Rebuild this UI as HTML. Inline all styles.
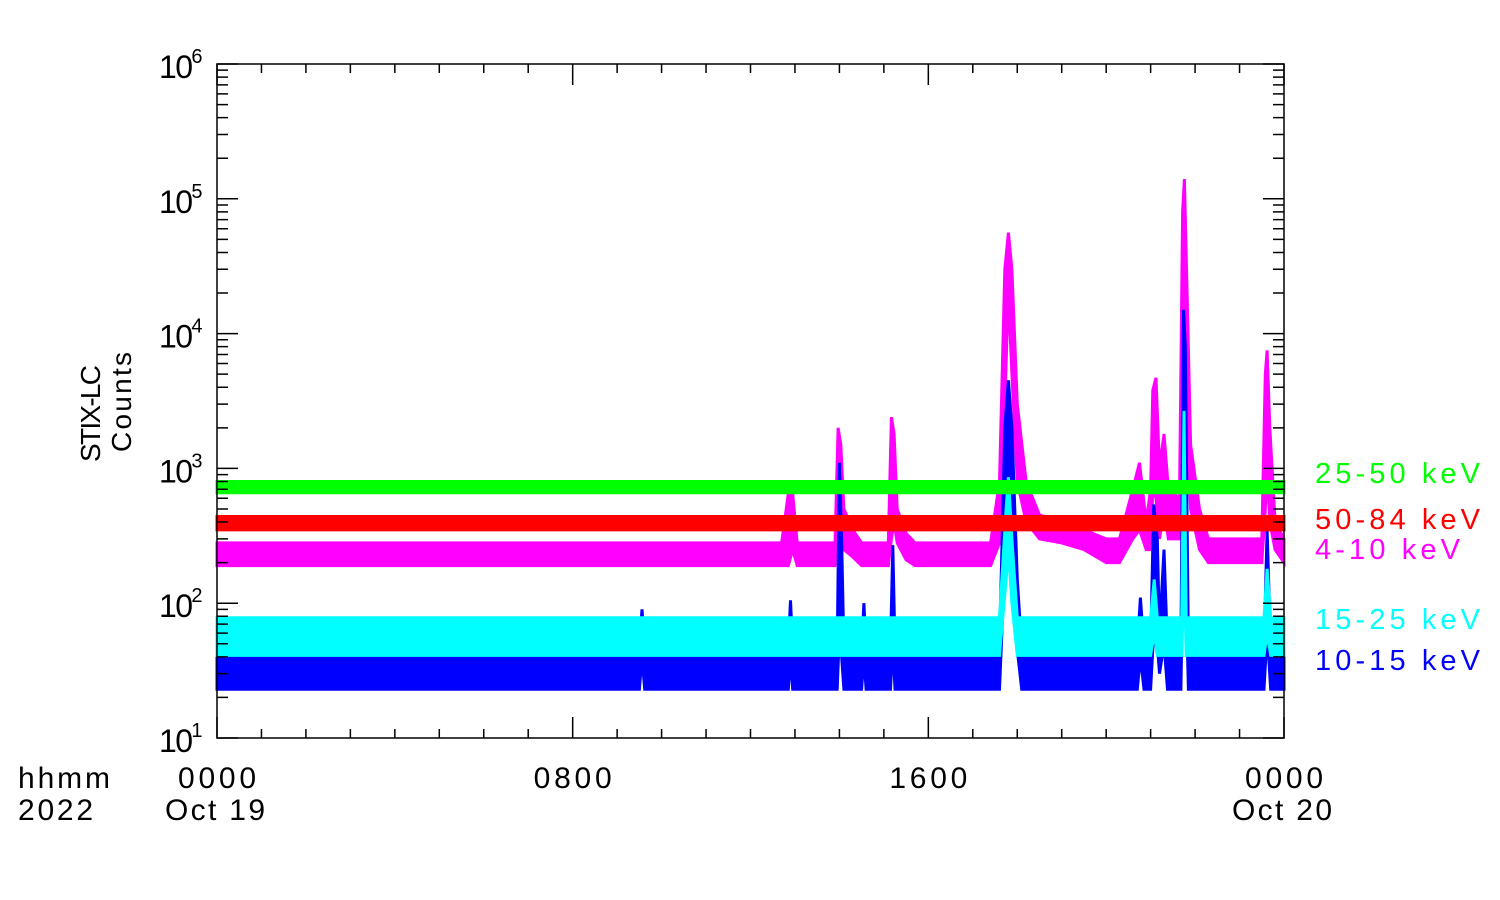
<!DOCTYPE html>
<html><head><meta charset="utf-8"><style>
html,body{margin:0;padding:0;background:#fff;}
svg{display:block;font-family:"Liberation Sans",sans-serif;}
</style></head><body>
<svg id="chart" width="1500" height="900" viewBox="0 0 1500 900" xmlns="http://www.w3.org/2000/svg">
<rect width="1500" height="900" fill="#fff"/>
<g id="series"></g>
<g id="axes"></g>
<g id="labels"></g>
<text x="18" y="788" font-size="30" textLength="92" lengthAdjust="spacing">hhmm</text>
<text x="18" y="820" font-size="30" textLength="75" lengthAdjust="spacing">2022</text>
<text transform="translate(100,414) rotate(-90)" font-size="28" x="-48" textLength="97" lengthAdjust="spacing">STIX-LC</text>
<text transform="translate(131,402) rotate(-90)" font-size="28" x="-50" textLength="100" lengthAdjust="spacing">Counts</text>
</svg>
<script>
// ---- data (hours since 2022-10-19 00:00, counts) ----
const magT  = [0,12.7,12.85,12.95,13.05,13.9,13.97,14.03,14.1,14.3,14.5,15.1,15.17,15.23,15.3,15.5,15.7,17.4,17.6,17.72,17.8,17.88,18.0,18.2,18.5,19.0,19.5,20.0,20.3,20.6,20.75,20.9,21.0,21.05,21.12,21.2,21.3,21.4,21.65,21.72,21.76,21.82,21.9,22.1,22.3,23.5,23.58,23.62,23.68,23.8,24];
const magHi = [280,280,650,650,280,280,2000,1500,500,350,280,280,2400,1800,500,330,280,280,800,30000,56000,30000,3000,800,450,400,350,300,300,700,1100,400,700,3800,4700,1000,1800,700,600,80000,140000,20000,1500,500,300,300,5000,7500,2000,400,300];
const magLo = [190,190,190,250,190,190,300,400,250,220,190,190,300,400,280,210,190,190,280,3000,20000,5000,800,400,300,280,250,200,200,300,350,250,250,700,600,300,500,300,300,5000,20000,2000,500,250,200,200,500,1000,400,250,200];

const bluT  = [0,9.5,9.56,9.62,12.85,12.9,12.95,13.95,14.0,14.05,14.1,14.5,14.55,14.6,15.15,15.2,15.25,17.6,17.72,17.8,17.88,18.0,18.1,20.7,20.77,20.85,21.0,21.07,21.15,21.2,21.3,21.38,21.68,21.74,21.78,21.85,23.55,23.62,23.7,24];
const bluHi = [46,46,90,46,46,105,46,46,1100,300,46,46,100,46,46,270,46,46,2000,4500,2000,150,46,46,110,46,46,540,300,60,250,46,46,15000,8000,46,46,350,46,46];
const bluLo = [23,23,40,23,23,40,23,23,60,40,23,23,40,23,23,50,23,23,200,1500,150,45,23,23,40,23,23,60,50,30,50,23,23,300,200,23,23,60,23,23];

const cyaT  = [0,17.6,17.75,17.8,17.88,18.0,21.0,21.08,21.15,21.7,21.75,21.8,23.55,23.62,23.7,24];
const cyaHi = [78,78,500,860,300,78,78,150,78,78,2670,78,78,180,78,78];
const cyaLo = [41,41,150,250,100,41,41,60,41,41,200,41,41,60,41,41];

const redT  = [0,24];
const redHi = [440,440];
const redLo = [350,350];

const grnT  = [0,24];
const grnHi = [800,800];
const grnLo = [660,660];

const yTickExp = [1,2,3,4,5,6];
const xMajorHours = [0,8,16,24];
const xMajorLabels = ["0000","0800","1600","0000"];
const xDateLabels = ["Oct 19","","","Oct 20"];
const legendNames = ["25-50 keV","50-84 keV","4-10 keV","15-25 keV","10-15 keV"];

// ---- axes functions ----
const X0=217, X1=1284, Y0=738, Y1=64;
function xs(h){return X0+(X1-X0)*h/24;}
function ys(v){return Y0-(Y0-Y1)*(Math.log10(v)-1)/5;}
const NS="http://www.w3.org/2000/svg";
function mk(tag,attrs,parent){const e=document.createElementNS(NS,tag);for(const k in attrs)e.setAttribute(k,attrs[k]);parent.appendChild(e);return e;}

const ser=document.getElementById('series');
function band(T,Hi,Lo,color,name){
  let pts=[];
  for(let i=0;i<T.length;i++)pts.push(xs(T[i]).toFixed(1)+','+ys(Hi[i]).toFixed(1));
  for(let i=T.length-1;i>=0;i--)pts.push(xs(T[i]).toFixed(1)+','+ys(Lo[i]).toFixed(1));
  const p=mk('polygon',{points:pts.join(' '),fill:color,stroke:color,'stroke-width':3,'stroke-linejoin':'miter'},ser);
  
  
}
band(magT,magHi,magLo,'#ff00ff','series-4-10-kev');
band(bluT,bluHi,bluLo,'#0000ff','series-10-15-kev');
band(cyaT,cyaHi,cyaLo,'#00ffff','series-15-25-kev');
band(redT,redHi,redLo,'#ff0000','series-50-84-kev');
band(grnT,grnHi,grnLo,'#00ff00','series-25-50-kev');

// ---- axes ----
const ax=document.getElementById('axes');
const frame=mk('rect',{x:X0,y:Y1,width:X1-X0,height:Y0-Y1,fill:'none',stroke:'#000','stroke-width':1.5},ax);


let d='';
for(let e=1;e<=6;e++){
  for(let m=1;m<=9;m++){
    if(e==6&&m>1)break;
    const y=ys(m*Math.pow(10,e)); const L=(m==1)?21:11;
    d+=`M${X0},${y}h${L}M${X1},${y}h${-L}`;
  }
}
for(let h=0;h<=24;h++){
  const x=xs(h); const L=(h%8==0)?21:9;
  d+=`M${x},${Y0}v${-L}M${x},${Y1}v${L}`;
}
const tk=mk('path',{d:d,stroke:'#000','stroke-width':1.5,fill:'none'},ax);



const lb=document.getElementById('labels');
yTickExp.forEach(e=>{
  const t=mk('text',{x:159,y:ys(Math.pow(10,e))+14,'font-size':32,fill:'#000'},lb);
  
  
  t.innerHTML='<tspan textLength="34" lengthAdjust="spacing">10</tspan><tspan dy="-15" font-size="20">'+e+'</tspan>';
});
xMajorHours.forEach((h,i)=>{
  const t=mk('text',{x:xs(h)-39,y:788,'font-size':30,fill:'#000',textLength:78,lengthAdjust:'spacing'},lb);
  
  
  t.textContent=xMajorLabels[i];
  if(xDateLabels[i]){
    const t2=mk('text',{x:xs(h)-52,y:820,'font-size':30,fill:'#000',textLength:100,lengthAdjust:'spacing'},lb);
    
    
    t2.textContent=xDateLabels[i];
  }
});
const legendColors=['#00ff00','#ff0000','#ff00ff','#00ffff','#0000ff'];
const legendY=[483,529,559,629,670];
const legendW=[165,165,145,165,165];
legendNames.forEach((n,i)=>{
  const t=mk('text',{x:1315,y:legendY[i],'font-size':29,fill:legendColors[i],textLength:legendW[i],lengthAdjust:'spacing'},lb);
  
  
  t.textContent=n;
});
</script>
</body></html>
